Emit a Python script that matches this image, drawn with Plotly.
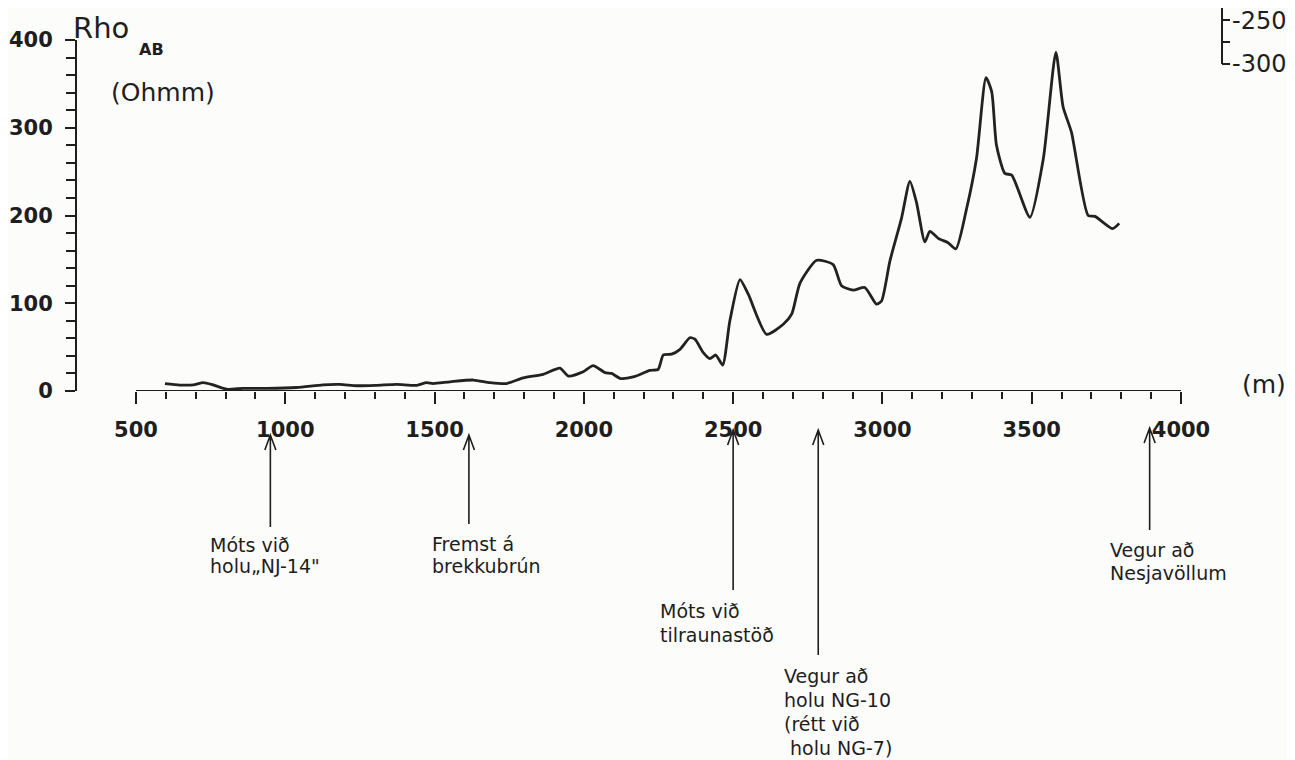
import plotly.graph_objects as go

# ---------------- data ----------------
distance_m = [597, 647, 692, 725, 758, 804, 859, 938, 1038, 1126, 1183, 1239, 1306,
              1373, 1440, 1473, 1495, 1552, 1630, 1686, 1741, 1797, 1864, 1920, 1948,
              1998, 2031, 2071, 2093, 2121, 2165, 2221, 2249, 2266, 2294, 2322, 2355,
              2372, 2400, 2422, 2442, 2465, 2489, 2523, 2551, 2612, 2668, 2696, 2724,
              2780, 2835, 2863, 2902, 2941, 2980, 2997, 3025, 3064, 3092, 3114, 3142,
              3159, 3187, 3220, 3246, 3282, 3315, 3347, 3366, 3382, 3410, 3433, 3494,
              3539, 3581, 3605, 3633, 3689, 3712, 3771, 3793]
rho_ab = [8.3, 6.8, 7, 9.5, 7, 2, 3, 3, 4, 7, 7.5, 6, 6.5,
          7.5, 6.5, 9.5, 8.5, 10.5, 12.5, 9.5, 8.5, 15, 19, 26, 17,
          22, 29, 21, 20, 14.5, 16, 23.5, 24.7, 41, 42, 47.5, 60.7,
          59, 43.7, 37, 41, 29.6, 80, 127, 110, 64.6, 76, 87.5, 123,
          149, 144, 120, 115, 118, 99, 102.5, 148, 197, 239, 215, 170,
          182, 174, 169, 162, 208, 265, 357, 341, 280, 248, 246, 198,
          265, 386, 324, 295, 200, 199, 185, 191]

x_tick_vals = [500, 1000, 1500, 2000, 2500, 3000, 3500, 4000]
x_tick_text = ["500", "1000", "1500", "2000", "2500", "3000", "3500", "4000"]
x_minor_vals = list(range(500, 4001, 100))
y_tick_vals = [0, 100, 200, 300, 400]
y_tick_text = ["0", "100", "200", "300", "400"]

marker_x = [950, 1615, 2500, 2785, 3895]
marker_labels = [
    ["Móts við", "holu„NJ-14\""],
    ["Fremst á", "brekkubrún"],
    ["Móts við", "tilraunastöð"],
    ["Vegur að", "holu NG-10", "(rétt við", " holu NG-7)"],
    ["Vegur að", "Nesjavöllum"],
]

# ---------------- layout geometry (reference pixels) ----------------
OFF = 8                      # page body margin
W, H = 1295 - OFF, 760 - OFF
PLOT_L, PLOT_R, PLOT_T, PLOT_B = 77, 1181, 40, 391
L, R, T, B = PLOT_L - OFF, W - (PLOT_R - OFF), PLOT_T - OFF, H - (PLOT_B - OFF)
PW, PH = PLOT_R - PLOT_L, PLOT_B - PLOT_T
X_RANGE = [302.4, 4000]
INK = "#1e1e1e"
FONT = "DejaVu Sans"


def px(xp):
    return (xp - PLOT_L) / PW


def py(yp):
    return (PLOT_B - yp) / PH


fig = go.Figure()
fig.add_trace(go.Scatter(
    x=distance_m, y=rho_ab, mode="lines",
    line=dict(color="#222222", width=2.8, shape="spline", smoothing=0.6),
    hoverinfo="x+y", showlegend=False,
))

shapes = []
# x axis line starting at 500 m
shapes.append(dict(type="line", xref="x", yref="y", x0=x_tick_vals[0], x1=x_tick_vals[-1],
                   y0=0, y1=0, line=dict(color=INK, width=2)))

# arrows (tip / bottom in reference pixel rows)
arrow_px = [(435, 527), (435, 524), (430, 590), (430, 655), (428, 530)]
wing_dx = 18.5
for ax, (tip, bot) in zip(marker_x, arrow_px):
    yt, yb, yw = py(tip), py(bot), py(tip + 15)
    shapes.append(dict(
        type="path", xref="x", yref="paper",
        path=f"M {ax},{yb} L {ax},{yt} M {ax - wing_dx},{yw} L {ax},{yt} L {ax + wing_dx},{yw}",
        line=dict(color=INK, width=1.6),
    ))

# fragment of a neighbouring axis at top right
fx = px(1222)
shapes.append(dict(type="line", xref="paper", yref="paper", x0=fx, x1=fx,
                   y0=py(0), y1=py(64), line=dict(color=INK, width=2)))
for ty in (20, 42, 64):
    shapes.append(dict(type="line", xref="paper", yref="paper", x0=fx, x1=px(1230),
                       y0=py(ty), y1=py(ty), line=dict(color=INK, width=2)))

annotations = []
label_left = [208, 430, 658, 782, 1108]
label_rows = [[545, 566], [544, 566], [611, 635], [676, 700, 724, 748], [550, 573]]
for lines, lx, rows in zip(marker_labels, label_left, label_rows):
    for text, ly in zip(lines, rows):
        annotations.append(dict(text=text, x=px(lx), y=py(ly), xanchor="left",
                                yanchor="middle", align="left",
                                font=dict(family=FONT, size=19, color=INK)))

annotations += [
    dict(text="Rho", x=px(71), y=py(28), xanchor="left", yanchor="middle",
         font=dict(family=FONT, size=29, color=INK)),
    dict(text="<b>AB</b>", x=px(137), y=py(49), xanchor="left", yanchor="middle",
         font=dict(family=FONT, size=16, color=INK)),
    dict(text="(Ohmm)", x=px(109), y=py(93), xanchor="left", yanchor="middle",
         font=dict(family=FONT, size=25, color=INK)),
    dict(text="(m)", x=px(1240), y=py(384), xanchor="left", yanchor="middle",
         font=dict(family=FONT, size=25, color=INK)),
    dict(text="-250", x=px(1230), y=py(21), xanchor="left", yanchor="middle",
         font=dict(family=FONT, size=24, color=INK)),
    dict(text="-300", x=px(1230), y=py(64), xanchor="left", yanchor="middle",
         font=dict(family=FONT, size=24, color=INK)),
]
for a in annotations:
    a.update(xref="paper", yref="paper", showarrow=False)

fig.update_layout(
    width=W, height=H,
    margin=dict(l=L, r=R, t=T, b=B, pad=0, autoexpand=False),
    paper_bgcolor="#fcfcfa", plot_bgcolor="#fcfcfa",
    shapes=shapes, annotations=annotations,
    xaxis=dict(range=X_RANGE, showline=False, showgrid=False, zeroline=False,
               automargin=False,
               tickmode="array", tickvals=x_tick_vals, ticktext=x_tick_text,
               ticks="outside", ticklen=12, tickwidth=2, tickcolor=INK,
               ticklabelstandoff=8,
               tickfont=dict(family=FONT, size=21, color=INK, weight="bold"),
               minor=dict(tickmode="array", tickvals=x_minor_vals, ticks="outside",
                          ticklen=7, tickwidth=2, tickcolor=INK)),
    yaxis=dict(range=[0, 400], showline=True, linecolor=INK, linewidth=2,
               showgrid=False, zeroline=False, automargin=False,
               tickmode="array", tickvals=y_tick_vals, ticktext=y_tick_text,
               ticks="outside", ticklen=10, tickwidth=2, tickcolor=INK,
               ticklabelstandoff=8,
               tickfont=dict(family=FONT, size=21, color=INK, weight="bold"),
               minor=dict(dtick=20, tick0=0, ticks="outside", ticklen=9,
                          tickwidth=2, tickcolor=INK)),
)

fig.write_html("out.html")
